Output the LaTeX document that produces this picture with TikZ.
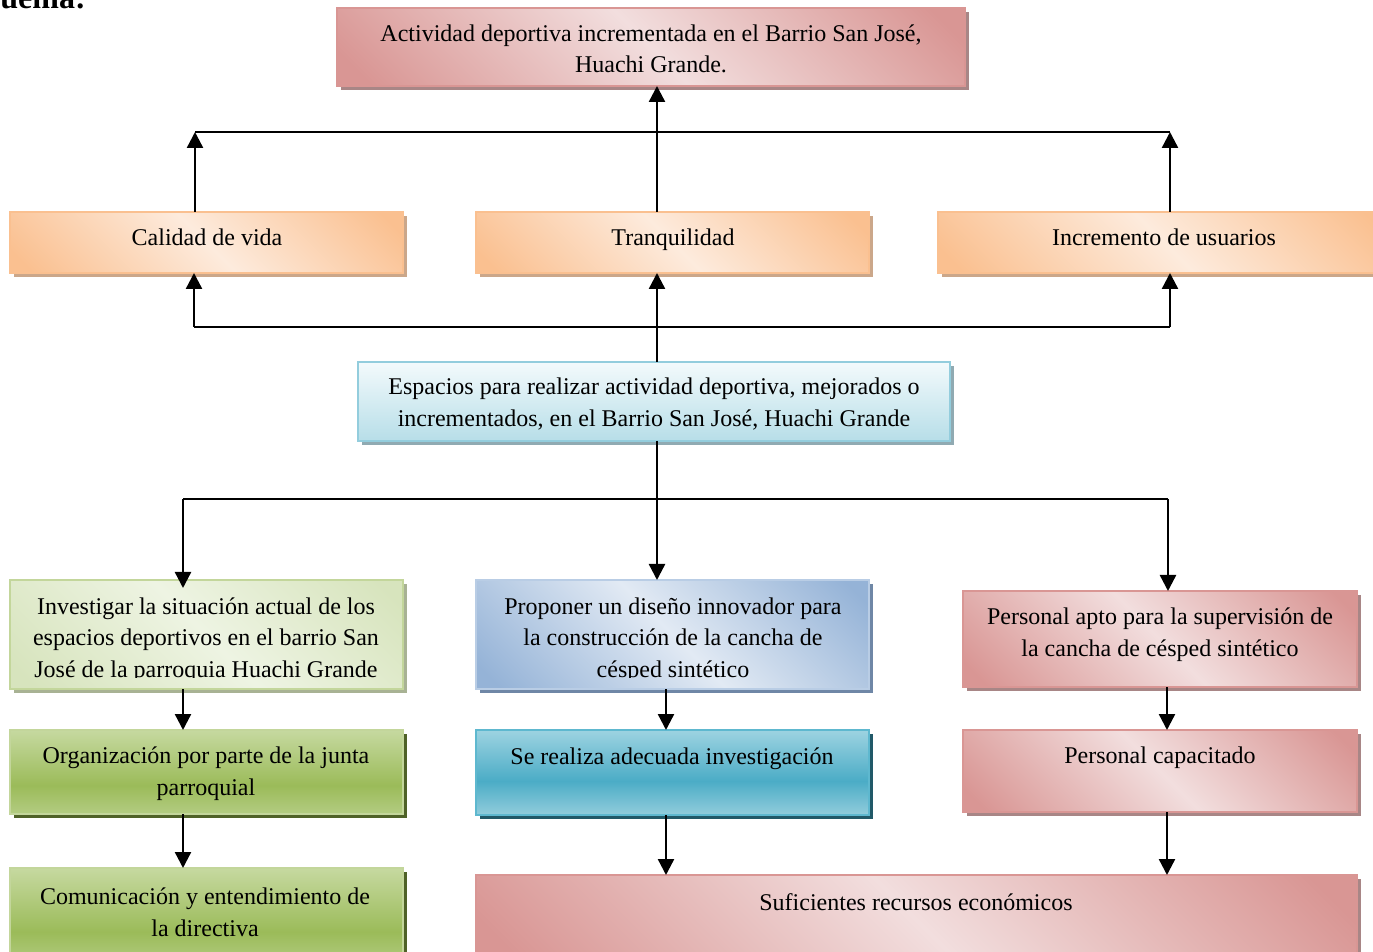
\documentclass[tikz,border=0pt]{standalone}
\usepackage{fontspec}
\setmainfont{Liberation Serif}
\usetikzlibrary{shadows,arrows.meta}
\definecolor{roseD}{HTML}{D99694}
\definecolor{roseL}{HTML}{F2DEDE}
\definecolor{roseB}{HTML}{D99694}
\definecolor{roseS}{HTML}{A88686}
\definecolor{oraD}{HTML}{FAC090}
\definecolor{oraL}{HTML}{FDEBDD}
\definecolor{oraB}{HTML}{FAC090}
\definecolor{oraS}{HTML}{CBA78A}
\definecolor{ltbD}{HTML}{B7DEE8}
\definecolor{ltbL}{HTML}{F3FAFC}
\definecolor{ltbB}{HTML}{93CDDD}
\definecolor{ltbS}{HTML}{90AAB2}
\definecolor{lgrD}{HTML}{D7E4BD}
\definecolor{lgrL}{HTML}{EEF4E3}
\definecolor{lgrB}{HTML}{C3D69B}
\definecolor{lgrS}{HTML}{A8B294}
\definecolor{bluD}{HTML}{95B3D7}
\definecolor{bluL}{HTML}{E2EAF4}
\definecolor{bluB}{HTML}{B9CDE5}
\definecolor{bluS}{HTML}{6F87A6}
\definecolor{grnT}{HTML}{C6D9A0}
\definecolor{grnM}{HTML}{9BBB59}
\definecolor{grnBo}{HTML}{B3CC82}
\definecolor{grnB}{HTML}{C3D69B}
\definecolor{grnS}{HTML}{4F6228}
\definecolor{tealT}{HTML}{9DD3E1}
\definecolor{tealM}{HTML}{4BACC6}
\definecolor{tealBo}{HTML}{92CDDC}
\definecolor{tealB}{HTML}{5EB8CF}
\definecolor{tealS}{HTML}{215968}
\pgfdeclarehorizontalshading{rosesh}{100bp}{color(0bp)=(roseD); color(18bp)=(roseD); color(50bp)=(roseL); color(82bp)=(roseD); color(100bp)=(roseD)}
\pgfdeclarehorizontalshading{orash}{100bp}{color(0bp)=(oraD); color(18bp)=(oraD); color(50bp)=(oraL); color(82bp)=(oraD); color(100bp)=(oraD)}
\pgfdeclarehorizontalshading{lgrsh}{100bp}{color(0bp)=(lgrD); color(18bp)=(lgrD); color(50bp)=(lgrL); color(82bp)=(lgrD); color(100bp)=(lgrD)}
\pgfdeclarehorizontalshading{blush}{100bp}{color(0bp)=(bluD); color(18bp)=(bluD); color(50bp)=(bluL); color(82bp)=(bluD); color(100bp)=(bluD)}
\pgfdeclareverticalshading{ltbsh}{100bp}{color(0bp)=(ltbD); color(25bp)=(ltbD); color(75bp)=(ltbL); color(100bp)=(ltbL)}
\pgfdeclareverticalshading{grnsh}{100bp}{color(0bp)=(grnBo); color(25bp)=(grnBo); color(42bp)=(grnM); color(75bp)=(grnT); color(100bp)=(grnT)}
\pgfdeclareverticalshading{tealsh}{100bp}{color(0bp)=(tealBo); color(25bp)=(tealBo); color(45bp)=(tealM); color(75bp)=(tealT); color(100bp)=(tealT)}
\tikzset{
  box/.style={draw, line width=1pt, inner sep=0pt, outer sep=0pt, anchor=north west, shade},
  rosebox/.style={box, draw=roseB, shading=rosesh, shading angle=45, drop shadow={shadow xshift=2pt, shadow yshift=-2pt, fill=roseS, opacity=1}},
  orabox/.style={box, draw=oraB, shading=orash, shading angle=45, drop shadow={shadow xshift=2pt, shadow yshift=-2pt, fill=oraS, opacity=1}},
  ltbbox/.style={box, draw=ltbB, shading=ltbsh, drop shadow={shadow xshift=2pt, shadow yshift=-2pt, fill=ltbS, opacity=1}},
  lgrbox/.style={box, draw=lgrB, shading=lgrsh, shading angle=45, drop shadow={shadow xshift=2pt, shadow yshift=-2pt, fill=lgrS, opacity=1}},
  blubox/.style={box, draw=bluB, shading=blush, shading angle=45, drop shadow={shadow xshift=2pt, shadow yshift=-2pt, fill=bluS, opacity=1}},
  grnbox/.style={box, draw=grnB, shading=grnsh, drop shadow={shadow xshift=2pt, shadow yshift=-2pt, fill=grnS, opacity=1}},
  tealbox/.style={box, draw=tealB, shading=tealsh, drop shadow={shadow xshift=2pt, shadow yshift=-2pt, fill=tealS, opacity=1}},
  txt/.style={align=center, font=\fontsize{12}{15.8}\selectfont, inner sep=0pt},
  conn/.style={line width=1.2pt, black},
  arr/.style={conn, -{Triangle[width=8pt,length=8pt]}},
}
\begin{document}
\begin{tikzpicture}[x=0.5pt,y=-0.5pt]
\useasboundingbox (0,0) rectangle (1373,952);
% heading fragment
\node[font=\fontsize{16}{18}\selectfont\bfseries, anchor=base west, inner sep=0pt] (head) at (0,9) {uema:};
% boxes
\node[rosebox, minimum width=314pt, minimum height=39pt] (top) at (337,8) {};
\node[orabox, minimum width=196.5pt, minimum height=30.5pt] (cal) at (10,212) {};
\node[orabox, minimum width=196.5pt, minimum height=30.5pt] (tra) at (476,212) {};
\node[orabox, minimum width=226pt, minimum height=30.5pt] (inc) at (938,212) {};
\node[ltbbox, minimum width=296pt, minimum height=39.5pt] (esp) at (358,362) {};
\node[lgrbox, minimum width=196.5pt, minimum height=54.5pt] (inv) at (10,580) {};
\node[blubox, minimum width=196.5pt, minimum height=54.5pt] (pro) at (476,580) {};
\node[rosebox, minimum width=197pt, minimum height=48pt] (pap) at (963,591) {};
\node[grnbox, minimum width=196.5pt, minimum height=42pt] (org) at (10,730) {};
\node[tealbox, minimum width=196.5pt, minimum height=42.5pt] (ser) at (476,730) {};
\node[rosebox, minimum width=197pt, minimum height=41pt] (pca) at (963,730) {};
\node[grnbox, minimum width=196.5pt, minimum height=48.5pt] (com) at (10,868) {};
\node[rosebox, minimum width=440.5pt, minimum height=45pt] (suf) at (476,875) {};
% texts
\node[txt] (ttop) at (651,49) {Actividad deportiva incrementada en el Barrio San José,\\Huachi Grande.};
\node[txt] (tcal) at (207,237) {Calidad de vida};
\node[txt] (ttra) at (673,240) {Tranquilidad};
\node[txt] (tinc) at (1164,237) {Incremento de usuarios};
\node[txt] (tesp) at (654,404) {Espacios para realizar actividad deportiva, mejorados o\\incrementados, en el Barrio San José, Huachi Grande};
\begin{scope}
\clip (10,580) rectangle (403,677);
\node[txt] (tinv) at (206,640) {Investigar la situación actual de los\\espacios deportivos en el barrio San\\José de la parroquia Huachi Grande};
\end{scope}
\begin{scope}
\clip (476,580) rectangle (869,677);
\node[txt] (tpro) at (673,640) {Proponer un diseño innovador para\\la construcción de la cancha de\\césped sintético};
\end{scope}
\node[txt] (tpap) at (1160,635) {Personal apto para la supervisión de\\la cancha de césped sintético};
\node[txt] (torg) at (206,774) {Organización por parte de la junta\\parroquial};
\node[txt] (tser) at (672,759) {Se realiza adecuada investigación};
\node[txt] (tpca) at (1160,758) {Personal capacitado};
\node[txt] (tcom) at (205,912) {Comunicación y entendimiento de\\la directiva};
\node[txt] (tsuf) at (916,902) {Suficientes recursos económicos};
% connector coordinates
\coordinate (cx) at (657,0);
\coordinate (cx2) at (666,0);
\coordinate (tl) at (195,132);
\coordinate (tr) at (1170,132);
\coordinate (ml) at (194,327);
\coordinate (mr) at (1170,327);
\coordinate (ll) at (183,499);
\coordinate (lr) at (1168,499);
\coordinate (rx) at (1167,0);
% upper connectors
\draw[conn] (tl) -- (tr);
\draw[arr] (cal.north -| tl) -- (tl);
\draw[arr] (inc.north -| tr) -- (tr);
\draw[arr] (tra.north -| cx) -- (top.south -| cx);
\draw[conn] (ml) -- (mr);
\draw[arr] (ml) -- (cal.south -| ml);
\draw[arr] (mr) -- (inc.south -| mr);
\draw[arr] (esp.north -| cx) -- (tra.south -| cx);
% lower connectors
\draw[conn] (ll) -- (lr);
\draw[arr] (esp.south -| cx) -- (pro.north -| cx);
\draw[arr, shorten >=-4pt] (ll) -- (inv.north -| ll);
\draw[arr] (lr) -- (pap.north -| lr);
\draw[arr] (inv.south -| ll) -- (org.north -| ll);
\draw[arr] (pro.south -| cx2) -- (ser.north -| cx2);
\draw[arr] (pap.south -| rx) -- (pca.north -| rx);
\draw[arr] (org.south -| ll) -- (com.north -| ll);
\draw[arr] (ser.south -| cx2) -- (suf.north -| cx2);
\draw[arr] (pca.south -| rx) -- (suf.north -| rx);
\end{tikzpicture}
\end{document}
